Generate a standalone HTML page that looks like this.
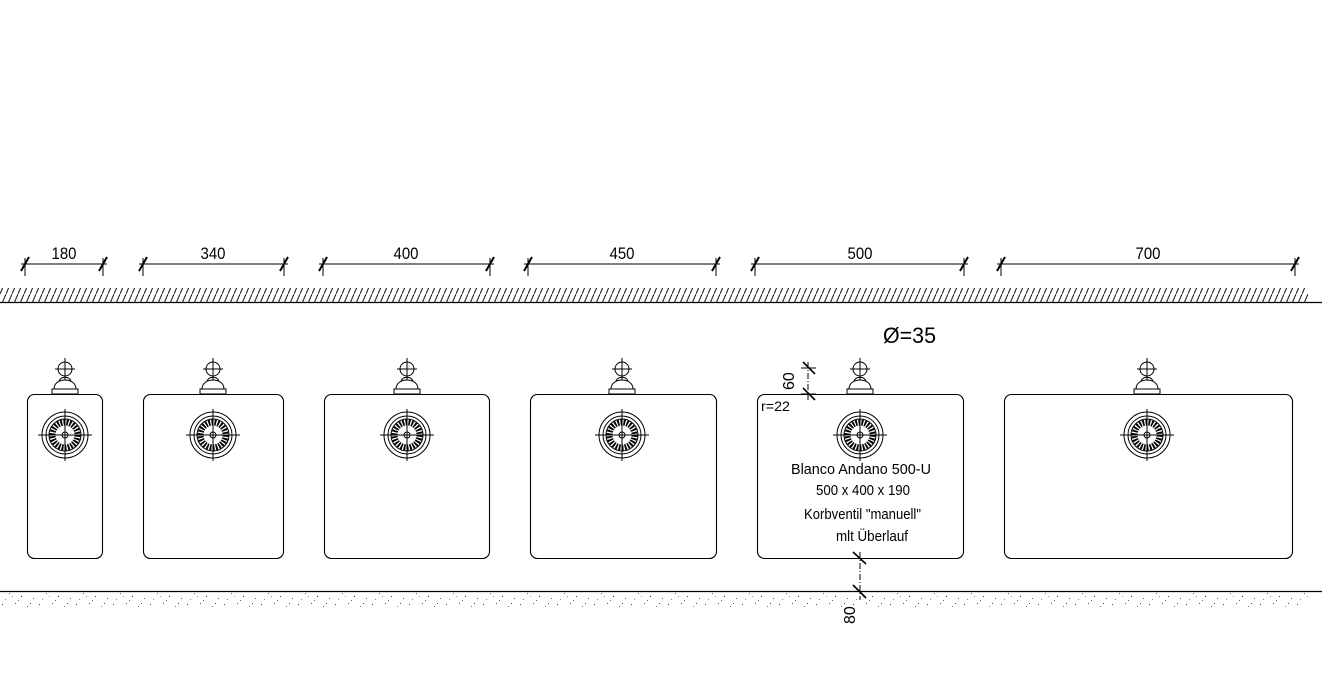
<!DOCTYPE html>
<html><head><meta charset="utf-8"><style>
html,body{margin:0;padding:0;background:#fff;width:1338px;height:694px;overflow:hidden}
svg{display:block}
text{font-family:"Liberation Sans",sans-serif;fill:#000}
</style></head><body>
<svg width="1338" height="694" viewBox="0 0 1338 694" xmlns="http://www.w3.org/2000/svg">
<defs>
<pattern id="hatch" width="6" height="14" patternUnits="userSpaceOnUse">
<line x1="0" y1="14" x2="6" y2="0" stroke="#222" stroke-width="1.1"/>
</pattern>
<pattern id="speck" width="37" height="14" patternUnits="userSpaceOnUse">
<rect x="2" y="2" width="1" height="1" fill="#444"/><rect x="9" y="5" width="1" height="1" fill="#666"/>
<rect x="15" y="1" width="1" height="1" fill="#555"/><rect x="21" y="8" width="1" height="1" fill="#333"/>
<rect x="27" y="4" width="1" height="1" fill="#777"/><rect x="33" y="10" width="1" height="1" fill="#555"/>
<rect x="5" y="11" width="1" height="1" fill="#888"/><rect x="18" y="12" width="1" height="1" fill="#666"/>
<rect x="30" y="1" width="1" height="1" fill="#444"/><rect x="12" y="8" width="1" height="1" fill="#999"/>
</pattern>
<g id="fit" fill="none" stroke="#000" stroke-width="1">
<circle cx="0" cy="-66" r="7"/>
<line x1="-10" y1="-66" x2="10" y2="-66"/><line x1="0" y1="-77" x2="0" y2="-55"/>
<path d="M-11,-46 C-11,-58 11,-58 11,-46 Z"/>
<path d="M-6,-54 C-4,-59 4,-59 6,-54"/>
<rect x="-13" y="-46" width="26" height="5"/>
<circle cx="0" cy="0" r="23"/>
<circle cx="0" cy="0" r="19"/>
<circle cx="0" cy="0" r="16"/>
<circle cx="0" cy="0" r="3"/>
<circle cx="0" cy="0" r="12.5" stroke-width="6" stroke-dasharray="1.8 1.2"/>
<line x1="-27" y1="0" x2="27" y2="0"/><line x1="0" y1="-26" x2="0" y2="26"/>
</g>
</defs>

<g stroke="#000" stroke-width="1" fill="none">
<line x1="21" y1="264" x2="107" y2="264"/>
<line x1="25" y1="258" x2="25" y2="276"/><line x1="103" y1="258" x2="103" y2="276"/>
<line x1="139" y1="264" x2="288" y2="264"/>
<line x1="143" y1="258" x2="143" y2="276"/><line x1="284" y1="258" x2="284" y2="276"/>
<line x1="319" y1="264" x2="494" y2="264"/>
<line x1="323" y1="258" x2="323" y2="276"/><line x1="490" y1="258" x2="490" y2="276"/>
<line x1="524" y1="264" x2="720" y2="264"/>
<line x1="528" y1="258" x2="528" y2="276"/><line x1="716" y1="258" x2="716" y2="276"/>
<line x1="751" y1="264" x2="968" y2="264"/>
<line x1="755" y1="258" x2="755" y2="276"/><line x1="964" y1="258" x2="964" y2="276"/>
<line x1="997" y1="264" x2="1299" y2="264"/>
<line x1="1001" y1="258" x2="1001" y2="276"/><line x1="1295" y1="258" x2="1295" y2="276"/>
</g>
<g stroke="#000" stroke-width="2">
<line x1="21" y1="271" x2="29" y2="257"/><line x1="99" y1="271" x2="107" y2="257"/>
<line x1="139" y1="271" x2="147" y2="257"/><line x1="280" y1="271" x2="288" y2="257"/>
<line x1="319" y1="271" x2="327" y2="257"/><line x1="486" y1="271" x2="494" y2="257"/>
<line x1="524" y1="271" x2="532" y2="257"/><line x1="712" y1="271" x2="720" y2="257"/>
<line x1="751" y1="271" x2="759" y2="257"/><line x1="960" y1="271" x2="968" y2="257"/>
<line x1="997" y1="271" x2="1005" y2="257"/><line x1="1291" y1="271" x2="1299" y2="257"/>
</g>
<g font-size="17" text-anchor="middle">
<text x="64" y="259" textLength="25" lengthAdjust="spacingAndGlyphs">180</text>
<text x="213" y="259" textLength="25" lengthAdjust="spacingAndGlyphs">340</text>
<text x="406" y="259" textLength="25" lengthAdjust="spacingAndGlyphs">400</text>
<text x="622" y="259" textLength="25" lengthAdjust="spacingAndGlyphs">450</text>
<text x="860" y="259" textLength="25" lengthAdjust="spacingAndGlyphs">500</text>
<text x="1148" y="259" textLength="25" lengthAdjust="spacingAndGlyphs">700</text>
</g>

<rect x="0" y="288" width="1308" height="14" fill="url(#hatch)"/>
<line x1="0" y1="302.5" x2="1322" y2="302.5" stroke="#000" stroke-width="1.2"/>

<line x1="0" y1="591.5" x2="1322" y2="591.5" stroke="#000" stroke-width="1.2"/>
<rect x="0" y="593" width="1308" height="14" fill="url(#speck)"/>

<g fill="none" stroke="#000" stroke-width="1.1">
<rect x="27.5" y="394.5" width="75" height="164" rx="7"/>
<rect x="143.5" y="394.5" width="140" height="164" rx="7"/>
<rect x="324.5" y="394.5" width="165" height="164" rx="7"/>
<rect x="530.5" y="394.5" width="186" height="164" rx="7"/>
<rect x="757.5" y="394.5" width="206" height="164" rx="7"/>
<rect x="1004.5" y="394.5" width="288" height="164" rx="7"/>
</g>
<use href="#fit" x="65" y="435"/>
<use href="#fit" x="213" y="435"/>
<use href="#fit" x="407" y="435"/>
<use href="#fit" x="622" y="435"/>
<use href="#fit" x="860" y="435"/>
<use href="#fit" x="1147" y="435"/>

<text x="883" y="343" font-size="22" textLength="53" lengthAdjust="spacingAndGlyphs">Ø=35</text>
<g stroke="#000" stroke-width="1" fill="none">
<line x1="801" y1="368" x2="816" y2="368"/><line x1="801" y1="394" x2="816" y2="394"/>
<line x1="808" y1="362" x2="808" y2="400" stroke-dasharray="6 2 1 2"/>
<line x1="860" y1="552" x2="860" y2="600" stroke-dasharray="6 2 1 2"/>
</g>
<g stroke="#000" stroke-width="1.6">
<line x1="803" y1="362" x2="815" y2="374"/><line x1="803" y1="388" x2="815" y2="400"/>
<line x1="853" y1="552" x2="866" y2="564"/><line x1="853" y1="585" x2="866" y2="598"/>
</g>
<text x="0" y="0" font-size="16" transform="translate(794,390) rotate(-90)">60</text>
<text x="0" y="0" font-size="16" transform="translate(855,624) rotate(-90)">80</text>
<text x="761" y="411" font-size="14" textLength="29" lengthAdjust="spacingAndGlyphs">r=22</text>
<g font-size="15">
<text x="791" y="474" textLength="140" lengthAdjust="spacingAndGlyphs">Blanco Andano 500-U</text>
<text x="816" y="495" textLength="94" lengthAdjust="spacingAndGlyphs">500 x 400 x 190</text>
<text x="804" y="519" textLength="117" lengthAdjust="spacingAndGlyphs">Korbventil "manuell"</text>
<text x="836" y="541" textLength="72" lengthAdjust="spacingAndGlyphs">mlt Überlauf</text>
</g>
</svg>
</body></html>
